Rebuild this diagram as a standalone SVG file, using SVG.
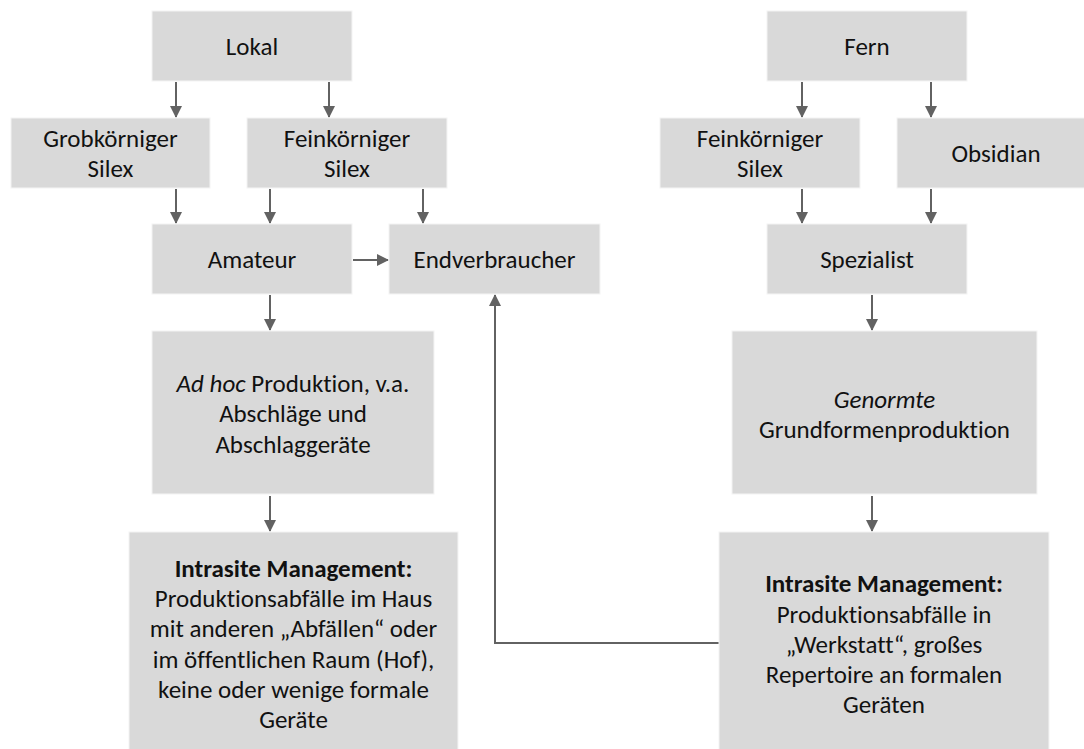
<svg xmlns="http://www.w3.org/2000/svg" width="1084" height="749" viewBox="0 0 1084 749">
  <style>
    .box { fill: #d9d9d9; stroke: #f4f4f4; stroke-width: 1; }
    .lbl { font-family: Calibri, Carlito, Lato, sans-serif; font-size: 25px; fill: #111; text-anchor: middle; font-variant-ligatures: none; }
    .it { font-style: italic; }
    .bd { font-weight: bold; }
    .conn { fill: none; stroke: #626262; stroke-width: 2; }
  </style>
  <defs>
    <marker id="arrow" viewBox="0 0 12 12" refX="11" refY="6" markerWidth="12" markerHeight="12" markerUnits="userSpaceOnUse" orient="auto">
      <path d="M0,0 L12,6 L0,12 Z" fill="#626262"/>
    </marker>
  </defs>
  <rect width="1084" height="749" fill="#ffffff"/>

  <!-- connectors -->
  <g id="connectors">
    <path class="conn" marker-end="url(#arrow)" d="M176,82 V117"/>
    <path class="conn" marker-end="url(#arrow)" d="M329,82 V117"/>
    <path class="conn" marker-end="url(#arrow)" d="M802,82 V117"/>
    <path class="conn" marker-end="url(#arrow)" d="M931,82 V117"/>
    <path class="conn" marker-end="url(#arrow)" d="M176,189 V223"/>
    <path class="conn" marker-end="url(#arrow)" d="M270,189 V223"/>
    <path class="conn" marker-end="url(#arrow)" d="M423,189 V223"/>
    <path class="conn" marker-end="url(#arrow)" d="M802,189 V223"/>
    <path class="conn" marker-end="url(#arrow)" d="M931,189 V223"/>
    <path class="conn" marker-end="url(#arrow)" d="M353,260 H388"/>
    <path class="conn" marker-end="url(#arrow)" d="M270,295 V330"/>
    <path class="conn" marker-end="url(#arrow)" d="M872,295 V330"/>
    <path class="conn" marker-end="url(#arrow)" d="M270,496 V531"/>
    <path class="conn" marker-end="url(#arrow)" d="M872,496 V531"/>
    <path class="conn" marker-end="url(#arrow)" d="M719,643 H495 V295"/>
  </g>

  <g id="lokal">
    <rect class="box" x="152" y="11" width="200" height="70"/>
    <text class="lbl" x="252" y="55">Lokal</text>
  </g>
  <g id="grobkoerniger-silex">
    <rect class="box" x="11" y="118" width="199" height="70"/>
    <text class="lbl" x="110.5" y="147">Grobkörniger</text>
    <text class="lbl" x="110.5" y="177">Silex</text>
  </g>
  <g id="feinkoerniger-silex-lokal">
    <rect class="box" x="247" y="118" width="200" height="70"/>
    <text class="lbl" x="347" y="147">Feinkörniger</text>
    <text class="lbl" x="347" y="177">Silex</text>
  </g>
  <g id="amateur">
    <rect class="box" x="152" y="224" width="200" height="70"/>
    <text class="lbl" x="252" y="268">Amateur</text>
  </g>
  <g id="endverbraucher">
    <rect class="box" x="389" y="224" width="211" height="70"/>
    <text class="lbl" x="494.5" y="268">Endverbraucher</text>
  </g>
  <g id="adhoc">
    <rect class="box" x="152" y="331" width="282" height="163"/>
    <text class="lbl" x="293" y="392"><tspan class="it">Ad hoc</tspan> Produktion, v.a.</text>
    <text class="lbl" x="293" y="422">Abschläge und</text>
    <text class="lbl" x="293" y="453">Abschlaggeräte</text>
  </g>
  <g id="intrasite-lokal">
    <rect class="box" x="129" y="532" width="329" height="224"/>
    <text class="lbl bd" x="293.5" y="577">Intrasite Management:</text>
    <text class="lbl" x="293.5" y="607">Produktionsabfälle im Haus</text>
    <text class="lbl" x="293.5" y="637">mit anderen „Abfällen“ oder</text>
    <text class="lbl" x="293.5" y="668">im öffentlichen Raum (Hof),</text>
    <text class="lbl" x="293.5" y="698">keine oder wenige formale</text>
    <text class="lbl" x="293.5" y="728">Geräte</text>
  </g>

  <g id="fern">
    <rect class="box" x="767" y="11" width="200" height="70"/>
    <text class="lbl" x="867" y="55">Fern</text>
  </g>
  <g id="feinkoerniger-silex-fern">
    <rect class="box" x="660" y="118" width="200" height="70"/>
    <text class="lbl" x="760" y="147">Feinkörniger</text>
    <text class="lbl" x="760" y="177">Silex</text>
  </g>
  <g id="obsidian">
    <rect class="box" x="897" y="118" width="200" height="70"/>
    <text class="lbl" x="996" y="162">Obsidian</text>
  </g>
  <g id="spezialist">
    <rect class="box" x="767" y="224" width="200" height="70"/>
    <text class="lbl" x="867" y="268">Spezialist</text>
  </g>
  <g id="genormte">
    <rect class="box" x="732" y="331" width="305" height="163"/>
    <text class="lbl it" x="884.5" y="408">Genormte</text>
    <text class="lbl" x="884.5" y="438">Grundformenproduktion</text>
  </g>
  <g id="intrasite-fern">
    <rect class="box" x="719" y="532" width="330" height="224"/>
    <text class="lbl bd" x="884" y="592">Intrasite Management:</text>
    <text class="lbl" x="884" y="623">Produktionsabfälle in</text>
    <text class="lbl" x="884" y="653">„Werkstatt“, großes</text>
    <text class="lbl" x="884" y="683">Repertoire an formalen</text>
    <text class="lbl" x="884" y="713">Geräten</text>
  </g>
</svg>
